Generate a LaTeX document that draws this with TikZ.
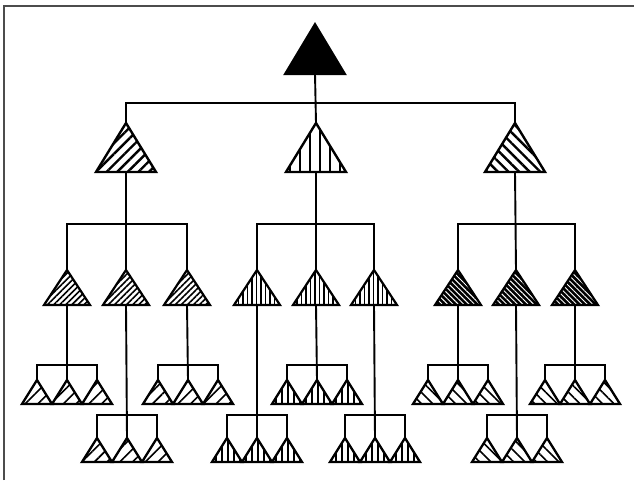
\documentclass[tikz,border=0pt]{standalone}
\usetikzlibrary{patterns.meta}
\tikzset{
  wire/.style={line width=1.9pt},
  pics/tri/.style n args={4}{code={
    \path[#4] (0,0) -- (-#1/2,#2) -- (#1/2,#2) -- cycle;
    \draw[line width=#3, line join=miter] (0,0) -- (-#1/2,#2) -- (#1/2,#2) -- cycle;
    \coordinate (-apex) at (0,0);
    \coordinate (-base) at (0,#2);
  }},
  solid/.style={fill=black},
  % first level hatches
  hatchA/.style={pattern={Lines[angle=45,distance=7.5pt,line width=2.4pt]}},
  hatchB/.style={pattern={Lines[angle=90,distance=10pt,line width=2pt]}},
  hatchC/.style={pattern={Lines[angle=-45,distance=7.5pt,line width=2.4pt]}},
  % second level hatches
  fineA/.style={pattern={Lines[angle=45,distance=4.3pt,line width=1.6pt]}},
  fineB/.style={pattern={Lines[angle=90,distance=4.5pt,line width=1.4pt]}},
  fineC/.style={preaction={fill=black},pattern={Lines[angle=-45,distance=3.8pt,line width=0.9pt]},pattern color=white},
  % third level hatches
  leafA/.style={pattern={Lines[angle=45,distance=9pt,line width=1.6pt]}},
  leafB/.style={pattern={Lines[angle=90,distance=6pt,line width=1.4pt]}},
  leafC/.style={pattern={Lines[angle=-45,distance=8pt,line width=1.6pt]}},
}
% a row of three touching small triangles with their bracket
\newcommand\trio[5]{%
  \pic (#1l) at (#2-30,#3) {tri={30}{24}{2.3pt}{#4}};
  \pic (#1m) at (#2,#3) {tri={30}{24}{2.3pt}{#4}};
  \pic (#1r) at (#2+30,#3) {tri={30}{24}{2.3pt}{#4}};
  \draw[wire] (#1l-apex) -- ++(0,-#5) -| (#1r-apex);
}
\begin{document}
\begin{tikzpicture}[x=1pt,y=-1pt]
\useasboundingbox (0,0) rectangle (634,480);
\fill[white] (0,0) rectangle (634,480);
% frame
\draw[line width=1.6pt, black!70] (4,480) -- (4,6) -- (634,6);

% root
\pic (T) at (315,24) {tri={60}{50}{2pt}{solid}};

% first level
\pic (A) at (126,123) {tri={60}{49}{2.4pt}{hatchA}};
\pic (B) at (316,123) {tri={60}{49}{2.4pt}{hatchB}};
\pic (C) at (515,123) {tri={60}{49}{2.4pt}{hatchC}};
\draw[wire] (T-base) -- (B-apex);
\draw[wire] (A-apex) -- ++(0,-20) -| (C-apex);

% second level
\pic (A1) at (67,270)  {tri={46}{35}{2.2pt}{fineA}};
\pic (A2) at (126,270) {tri={46}{35}{2.2pt}{fineA}};
\pic (A3) at (187,270) {tri={46}{35}{2.2pt}{fineA}};
\pic (B1) at (257,270) {tri={46}{35}{2.2pt}{fineB}};
\pic (B2) at (316,270) {tri={46}{35}{2.2pt}{fineB}};
\pic (B3) at (374,270) {tri={46}{35}{2.2pt}{fineB}};
\pic (C1) at (458,270) {tri={46}{35}{2.2pt}{fineC}};
\pic (C2) at (516,270) {tri={46}{35}{2.2pt}{fineC}};
\pic (C3) at (575,270) {tri={46}{35}{2.2pt}{fineC}};
\draw[wire] (A-base) -- (A2-apex);
\draw[wire] (A1-apex) -- ++(0,-46) -| (A3-apex);
\draw[wire] (B-base) -- (B2-apex);
\draw[wire] (B1-apex) -- ++(0,-46) -| (B3-apex);
\draw[wire] (C-base) -- (C2-apex);
\draw[wire] (C1-apex) -- ++(0,-46) -| (C3-apex);

% third level: upper and lower rows
\trio{a1}{67}{380}{leafA}{15}
\trio{a2}{127}{438}{leafA}{23}
\trio{a3}{188}{380}{leafA}{15}
\trio{b1}{257}{438}{leafB}{23}
\trio{b2}{317}{380}{leafB}{15}
\trio{b3}{375}{438}{leafB}{23}
\trio{c1}{458}{380}{leafC}{15}
\trio{c2}{517}{438}{leafC}{23}
\trio{c3}{575}{380}{leafC}{15}
\draw[wire] (A1-base) -- (a1m-apex);
\draw[wire] (A2-base) -- (a2m-apex);
\draw[wire] (A3-base) -- (a3m-apex);
\draw[wire] (B1-base) -- (b1m-apex);
\draw[wire] (B2-base) -- (b2m-apex);
\draw[wire] (B3-base) -- (b3m-apex);
\draw[wire] (C1-base) -- (c1m-apex);
\draw[wire] (C2-base) -- (c2m-apex);
\draw[wire] (C3-base) -- (c3m-apex);
\end{tikzpicture}
\end{document}
